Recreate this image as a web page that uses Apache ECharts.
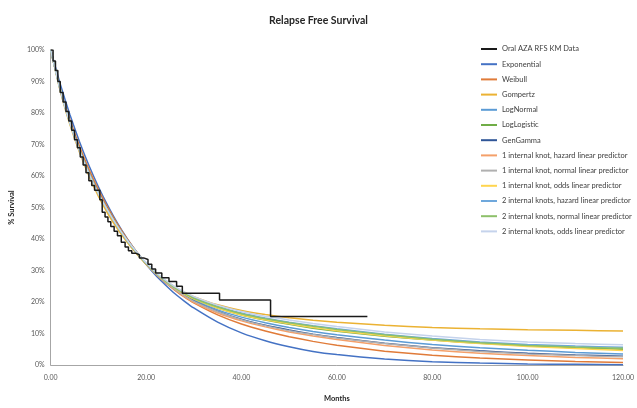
<!DOCTYPE html>
<html>
<head>
<meta charset="utf-8">
<script src="https://cdn.jsdelivr.net/npm/echarts@6/dist/echarts.min.js"></script>
<style>
  html, body { margin: 0; padding: 0; background: #ffffff; }
  #chart { width: 637px; height: 408px; }
</style>
</head>
<body>
<div id="chart"></div>
<script>
// Time grid (months) for the fitted survival curves
const months = [0, 2, 4, 6, 8, 10, 12, 14, 16, 18, 20, 22, 24, 26, 28, 30, 35, 40, 45, 50, 55, 60, 70, 80, 90, 100, 110, 120];

// Kaplan-Meier relapse free survival (step function)
const kmMonths   = [0, 0.5, 1.0, 1.5, 2.0, 2.6, 3.2, 3.8, 4.4, 5.0, 5.6, 6.2, 6.8, 7.4, 8.0, 8.6, 9.2, 10.3, 10.8, 11.4, 12.0, 12.6, 13.3, 14.0, 14.8, 15.6, 16.3, 17.0, 17.8, 18.6, 19.5, 20.4, 21.2, 22.0, 23.3, 24.8, 26.4, 27.6, 35.4, 46.1, 66.4];
const kmSurvival = [100, 96.5, 93.5, 90.0, 86.5, 83.5, 80.5, 77.5, 74.5, 71.5, 69.0, 66.0, 63.5, 61.0, 58.5, 57.0, 55.5, 52.5, 48.5, 47.0, 45.5, 44.0, 42.5, 41.0, 39.0, 37.5, 36.3, 35.5, 35.0, 34.0, 33.5, 32.0, 30.5, 29.2, 27.7, 26.5, 25.0, 22.8, 20.6, 15.4, 15.4];

// Parametric fits (% surviving)
const exponential = [100, 89.2, 79.6, 71.0, 63.4, 56.6, 50.5, 45.0, 40.2, 35.9, 32.0, 28.5, 25.5, 22.7, 20.3, 18.1, 13.6, 10.2, 7.7, 5.8, 4.3, 3.3, 1.9, 1.0, 0.6, 0.3, 0.2, 0.1];
const weibull     = [100, 87.8, 78.0, 69.6, 62.2, 55.7, 49.9, 44.7, 40.1, 36.0, 32.3, 29.0, 26.2, 23.8, 21.6, 19.7, 15.9, 13.0, 10.8, 9.0, 7.5, 6.3, 4.4, 3.1, 2.2, 1.6, 1.1, 0.8];
const gompertz    = [100, 87.0, 76.5, 67.7, 60.1, 53.6, 48.0, 43.2, 39.0, 35.3, 32.0, 29.2, 26.8, 24.8, 23.1, 21.7, 19.1, 17.3, 16.0, 15.0, 14.2, 13.6, 12.6, 11.9, 11.5, 11.2, 11.0, 10.8];
const logNormal   = [100, 87.9, 77.4, 68.6, 61.1, 54.6, 49.0, 44.0, 39.6, 35.7, 32.2, 29.1, 26.5, 24.3, 22.3, 20.6, 17.5, 15.2, 13.4, 11.9, 10.6, 9.6, 7.9, 6.5, 5.5, 4.7, 4.0, 3.5];
const logLogistic = [100, 87.6, 77.2, 68.5, 61.0, 54.6, 49.0, 44.0, 39.6, 35.7, 32.2, 29.2, 26.6, 24.5, 22.6, 21.0, 18.1, 15.9, 14.3, 12.9, 11.7, 10.7, 9.1, 7.9, 6.9, 6.1, 5.5, 5.0];
const genGamma    = [100, 87.7, 77.3, 68.6, 61.1, 54.7, 49.1, 44.1, 39.7, 35.7, 32.2, 29.1, 26.4, 24.2, 22.1, 20.3, 17.0, 14.5, 12.6, 11.1, 9.8, 8.7, 6.9, 5.5, 4.5, 3.7, 3.2, 2.8];

// Royston-Parmar spline fits (% surviving)
const knot1Hazard = [100, 87.6, 77.2, 68.5, 61.0, 54.6, 49.0, 44.0, 39.6, 35.7, 32.1, 29.0, 26.3, 24.0, 21.8, 19.9, 16.5, 14.0, 12.1, 10.5, 9.2, 8.1, 6.2, 4.8, 3.7, 3.0, 2.4, 2.0];
const knot1Normal = [100, 87.5, 77.1, 68.4, 60.9, 54.5, 48.9, 43.9, 39.6, 35.7, 32.2, 29.1, 26.4, 24.1, 22.0, 20.2, 16.9, 14.4, 12.5, 10.9, 9.7, 8.6, 6.8, 5.4, 4.3, 3.5, 3.0, 2.6];
const knot1Odds   = [100, 87.4, 77.0, 68.3, 60.8, 54.4, 48.9, 43.9, 39.5, 35.7, 32.2, 29.2, 26.6, 24.5, 22.6, 21.0, 18.1, 15.9, 14.4, 13.1, 11.9, 10.9, 9.3, 7.9, 6.8, 5.9, 5.2, 4.6];
const knot2Hazard = [100, 87.5, 77.1, 68.4, 60.9, 54.5, 48.9, 44.0, 39.6, 35.8, 32.3, 29.3, 26.8, 24.7, 22.9, 21.4, 18.6, 16.5, 14.9, 13.6, 12.5, 11.5, 9.8, 8.4, 7.3, 6.5, 6.0, 5.6];
const knot2Normal = [100, 87.4, 77.0, 68.3, 60.9, 54.5, 48.9, 44.0, 39.6, 35.7, 32.3, 29.3, 26.7, 24.6, 22.8, 21.2, 18.4, 16.3, 14.7, 13.4, 12.3, 11.3, 9.6, 8.2, 7.1, 6.2, 5.7, 5.3];
const knot2Odds   = [100, 87.3, 76.9, 68.2, 60.8, 54.4, 48.9, 44.0, 39.7, 35.9, 32.5, 29.5, 27.0, 24.9, 23.2, 21.7, 19.0, 17.0, 15.5, 14.3, 13.2, 12.2, 10.5, 9.2, 8.1, 7.3, 6.8, 6.4];

// Axis tick labels
const xTicks = [0, 20, 40, 60, 80, 100, 120];
const yTicks = [0, 10, 20, 30, 40, 50, 60, 70, 80, 90, 100];

const fits = [
  { name: 'Exponential', values: exponential, color: '#4472C4' },
  { name: 'Weibull', values: weibull, color: '#E07B39' },
  { name: 'Gompertz', values: gompertz, color: '#EBB233' },
  { name: 'LogNormal', values: logNormal, color: '#5B9BD5' },
  { name: 'LogLogistic', values: logLogistic, color: '#70AD47' },
  { name: 'GenGamma', values: genGamma, color: '#2F5597' },
  { name: '1 internal knot, hazard linear predictor', values: knot1Hazard, color: '#F4A06A' },
  { name: '1 internal knot, normal linear predictor', values: knot1Normal, color: '#B0B0B0' },
  { name: '1 internal knot, odds linear predictor', values: knot1Odds, color: '#FFD54F' },
  { name: '2 internal knots, hazard linear predictor', values: knot2Hazard, color: '#6FA8DC' },
  { name: '2 internal knots, normal linear predictor', values: knot2Normal, color: '#8DC06A' },
  { name: '2 internal knots, odds linear predictor', values: knot2Odds, color: '#C5D3EC' }
];

const FONT = 'Lato, "Open Sans", sans-serif';
const chart = echarts.init(document.getElementById('chart'), null, { renderer: 'canvas' });

const series = [{
  name: 'Oral AZA RFS KM Data',
  type: 'line',
  step: 'end',
  symbol: 'none',
  z: 5,
  color: '#1a1a1a',
  lineStyle: { width: 1.5, color: '#1a1a1a' },
  data: kmMonths.map((m, i) => [m, kmSurvival[i]])
}].concat(fits.map(f => ({
  name: f.name,
  type: 'line',
  symbol: 'none',
  smooth: 0.15,
  z: 2,
  color: f.color,
  lineStyle: { width: 1.5, color: f.color },
  data: months.map((m, i) => [m, f.values[i]])
})));

chart.setOption({
  animation: false,
  backgroundColor: '#ffffff',
  title: {
    text: 'Relapse Free Survival',
    left: 'center',
    top: 10,
    textStyle: { fontFamily: FONT, fontSize: 10.5, fontWeight: 'bold', color: '#262626' }
  },
  legend: {
    orient: 'vertical',
    left: 476,
    top: 39,
    icon: 'rect',
    itemWidth: 16,
    itemHeight: 2,
    itemGap: 5.2,
    textStyle: { fontFamily: FONT, fontSize: 7.5, color: '#404040', lineHeight: 10 },
    data: series.map(s => s.name)
  },
  grid: { left: 45, right: 12, top: 50, bottom: 36, containLabel: false },
  xAxis: {
    type: 'value',
    min: xTicks[0],
    max: xTicks[xTicks.length - 1],
    interval: xTicks[1] - xTicks[0],
    name: 'Months',
    nameLocation: 'middle',
    nameGap: 30,
    nameTextStyle: { fontFamily: FONT, fontSize: 7.5, fontWeight: 'bold', color: '#262626' },
    axisLine: { lineStyle: { color: '#a6a6a6', width: 1 } },
    axisTick: { show: false },
    splitLine: { show: false },
    axisLabel: { fontFamily: FONT, fontSize: 7, color: '#595959', margin: 9, formatter: v => v.toFixed(2) }
  },
  yAxis: {
    type: 'value',
    min: yTicks[0],
    max: yTicks[yTicks.length - 1],
    interval: yTicks[1] - yTicks[0],
    name: '% Survival',
    nameLocation: 'middle',
    nameRotate: 90,
    nameGap: 15,
    nameTextStyle: { fontFamily: FONT, fontSize: 7.5, fontWeight: 'bold', color: '#262626' },
    axisLine: { show: true, lineStyle: { color: '#a6a6a6', width: 1 } },
    axisTick: { show: false },
    splitLine: { show: false },
    axisLabel: { fontFamily: FONT, fontSize: 7, color: '#595959', margin: 6, formatter: '{value}%' }
  },
  series: series
});
</script>
</body>
</html>
